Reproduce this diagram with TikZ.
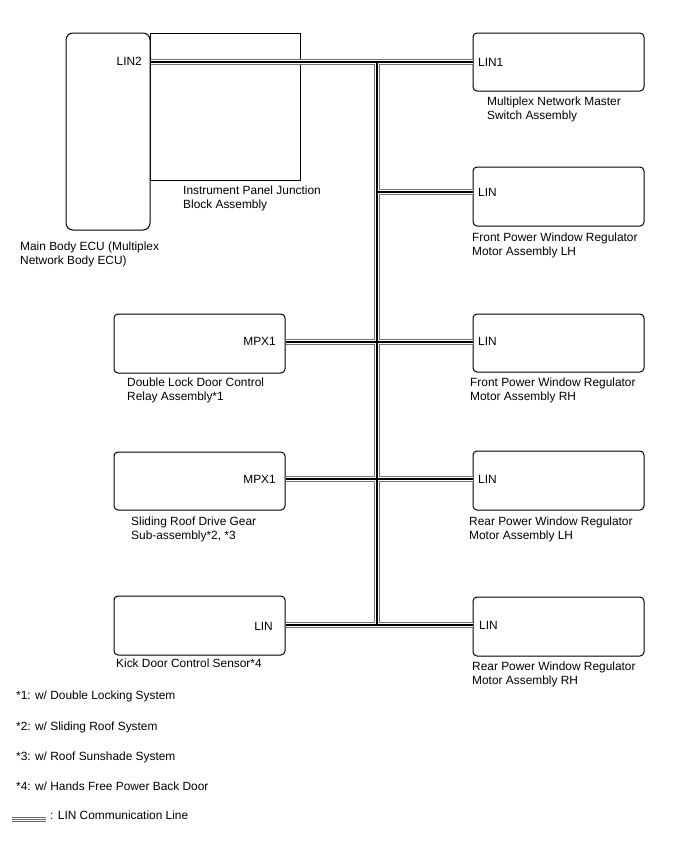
\documentclass[tikz,border=0pt]{standalone}
\usepackage{fontspec}
\setmainfont{Liberation Sans}
\begin{document}
\begin{tikzpicture}[x=1pt,y=-1pt,
  box/.style={draw=black,line width=1pt,rounded corners=4pt,inner sep=0pt,fill=white},
  lbl/.style={anchor=north west,align=left,inner sep=0pt,font=\fontsize{11.9}{14}\selectfont},
  port/.style={inner sep=0pt,font=\fontsize{11.9}{14}\selectfont}]
\useasboundingbox (0,0) rectangle (688,852);
% instrument panel junction block
\node[draw=black,line width=1pt,inner sep=0pt,minimum width=150pt,minimum height=147pt] (ipjb) at (225,106.5) {};
% main body ECU
\node[box,rounded corners=7pt,minimum width=84pt,minimum height=197pt] (ecu) at (108,131.5) {};
% right boxes
\node[box,minimum width=171pt,minimum height=58pt] (m) at (558.5,62) {};
\node[box,minimum width=171pt,minimum height=59pt] (flh) at (558.5,196.5) {};
\node[box,minimum width=171pt,minimum height=58pt] (frh) at (558.5,343) {};
\node[box,minimum width=171pt,minimum height=59pt] (rlh) at (558.5,480.5) {};
\node[box,minimum width=171pt,minimum height=59pt] (rrh) at (558.5,626.5) {};
% left boxes
\node[box,minimum width=171pt,minimum height=59pt] (dl) at (199.5,343.5) {};
\node[box,minimum width=171pt,minimum height=58pt] (sr) at (199.5,481) {};
\node[box,minimum width=171pt,minimum height=59pt] (kd) at (199.5,625.5) {};
% junctions
\coordinate (j1) at (377,62);
\coordinate (j2) at (377,192);
\coordinate (j3) at (377,342);
\coordinate (j4) at (377,479);
\coordinate (j5) at (377,625);
% LIN lines
\foreach \w/\c in {5.6/black!55, 3.4/white, 1.1/black}{
  \draw[line width=\w pt,draw=\c]
    (ecu.east |- j1) -- (m.west |- j1)
    (j1) -- (j5)
    (j2) -- (flh.west |- j2)
    (dl.east |- j3) -- (frh.west |- j3)
    (sr.east |- j4) -- (rlh.west |- j4)
    (kd.east |- j5) -- (rrh.west |- j5);
}
% port labels
\node[port,anchor=east] (p1) at (142,61) {LIN2};
\node[port,anchor=west] (p2) at (478,62) {LIN1};
\node[port,anchor=west] (p3) at (478,192) {LIN};
\node[port,anchor=west] (p4) at (478,341) {LIN};
\node[port,anchor=west] (p5) at (478,479) {LIN};
\node[port,anchor=west] (p6) at (479,625) {LIN};
\node[port,anchor=east] (p7) at (276,341) {MPX1};
\node[port,anchor=east] (p8) at (276,479) {MPX1};
\node[port,anchor=east] (p9) at (273,626) {LIN};
% box labels
\node[lbl] (t1) at (183,186) {Instrument Panel Junction\\Block Assembly};
\node[lbl] (t2) at (20,242) {Main Body ECU (Multiplex\\Network Body ECU)};
\node[lbl] (t3) at (487,96.5) {Multiplex Network Master\\Switch Assembly};
\node[lbl] (t4) at (472,232.5) {Front Power Window Regulator\\Motor Assembly LH};
\node[lbl] (t5) at (470,377.5) {Front Power Window Regulator\\Motor Assembly RH};
\node[lbl] (t6) at (469,516.5) {Rear Power Window Regulator\\Motor Assembly LH};
\node[lbl] (t7) at (472,661.5) {Rear Power Window Regulator\\Motor Assembly RH};
\node[lbl] (t8) at (127,377.5) {Double Lock Door Control\\Relay Assembly*1};
\node[lbl] (t9) at (131,516.5) {Sliding Roof Drive Gear\\Sub-assembly*2, *3};
\node[lbl] (t10) at (116,658.5) {Kick Door Control Sensor*4};
% footnotes
\node[lbl] (f1) at (16,691) {*1: w/ Double Locking System};
\node[lbl] (f2) at (16,722) {*2: w/ Sliding Roof System};
\node[lbl] (f3) at (16,752) {*3: w/ Roof Sunshade System};
\node[lbl] (f4) at (16,782) {*4: w/ Hands Free Power Back Door};
% legend
\coordinate (la) at (12,819);
\coordinate (lb) at (46,819);
\draw[black!60,line width=0.9pt] ([yshift=-2pt]la) -- ([yshift=-2pt]lb) (la) -- (lb) ([yshift=2pt]la) -- ([yshift=2pt]lb);
\node[lbl] (f5) at (50,810.5) {: LIN Communication Line};
\end{tikzpicture}
\end{document}
